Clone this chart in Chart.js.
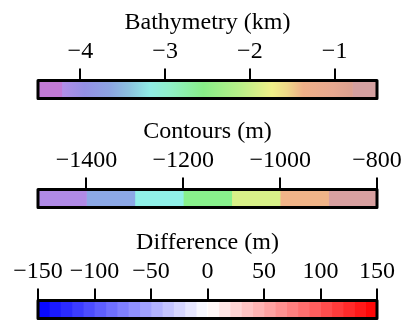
<!DOCTYPE html>
<html>
<head>
<meta charset="utf-8">
<script src="https://cdn.jsdelivr.net/npm/chart.js@4"></script>
<style>
  html, body { margin: 0; padding: 0; background: #fff; }
  #wrap { position: relative; width: 409px; height: 329px; overflow: hidden; }
  #wrap canvas { position: absolute; left: 0; }
</style>
</head>
<body>
<div id="wrap">
  <canvas id="bathyChart" width="409" height="109" style="top:0px;width:409px;height:109px"></canvas>
  <canvas id="contourChart" width="409" height="109" style="top:109px;width:409px;height:109px"></canvas>
  <canvas id="diffChart" width="409" height="109" style="top:220px;width:409px;height:109px"></canvas>
</div>
<script>
// --- data ---
const BATHY_TITLE = 'Bathymetry (km)';
const BATHY_RANGE = [-4.5, -0.5];
const BATHY_TICKS = [-4, -3, -2, -1];
// flat end pieces + continuous middle
const BATHY_SEGMENTS = [[-4.5, -4.22], [-4.22, -0.79], [-0.79, -0.5]];
const BATHY_STOPS = [-4.22, -3.95, -3.65, -3.41, -3.18, -2.94, -2.55, -2.12, -1.74, -1.56, -1.37, -1.02, -0.79];

const CONTOUR_TITLE = 'Contours (m)';
const CONTOUR_RANGE = [-1500, -800];
const CONTOUR_TICKS = [-1400, -1200, -1000, -800];
const CONTOUR_LEVELS = [-1500, -1400, -1300, -1200, -1100, -1000, -900, -800];

const DIFF_TITLE = 'Difference (m)';
const DIFF_RANGE = [-150, 150];
const DIFF_TICKS = [-150, -100, -50, 0, 50, 100, 150];
const DIFF_LEVELS = [-150, -140, -130, -120, -110, -100, -90, -80, -70, -60, -50, -40, -30, -20, -10,
  0, 10, 20, 30, 40, 50, 60, 70, 80, 90, 100, 110, 120, 130, 140, 150];

// --- colours ---
const BATHY_END_COLORS = ['#c27ad6', '#d4a0a0'];
const BATHY_STOP_COLORS = ['#b28ee8', '#9490e6', '#8ca4e2', '#8cc4e0', '#90ece6', '#90f0c8', '#88ee88',
  '#b8f088', '#f0f088', '#f0d888', '#f0b088', '#e8a890', '#dca090'];
const CONTOUR_COLORS = ['#b08ae6', '#8ca8e6', '#90f0e8', '#88f08c', '#d8f088', '#f0b488', '#d8a0a0'];

function bwr(v) {
  if (v < 0) {
    const t = Math.round((v + 150) / 150 * 255);
    return `rgb(${t},${t},255)`;
  }
  const t = Math.round((1 - v / 150) * 255);
  return `rgb(255,${t},${t})`;
}

const FONT_FAMILY = '"Liberation Serif", "Times New Roman", serif';

// black frame round the bar
const boxOutline = {
  id: 'boxOutline',
  afterDraw(chart) {
    const { ctx, chartArea: a } = chart;
    ctx.save();
    ctx.lineWidth = 3;
    ctx.lineJoin = 'round';
    ctx.strokeStyle = '#000';
    ctx.strokeRect(a.left, a.top, a.right - a.left, a.bottom - a.top);
    ctx.restore();
  }
};

function fmt(v) {
  return v < 0 ? '\u2212' + Math.abs(v) : String(v);
}

function makeColorbar(canvasId, title, range, ticks, datasets) {
  return new Chart(document.getElementById(canvasId), {
    type: 'bar',
    data: { labels: [''], datasets },
    plugins: [boxOutline],
    options: {
      responsive: false,
      animation: false,
      indexAxis: 'y',
      layout: { padding: { left: 38, right: 32, top: 11, bottom: 10.5 } },
      datasets: { bar: { grouped: false, barPercentage: 1, categoryPercentage: 1, borderWidth: 0 } },
      plugins: {
        legend: { display: false },
        tooltip: { enabled: false },
        title: {
          display: true,
          text: title,
          color: '#000',
          padding: { top: 0, bottom: 1.8 },
          font: { family: FONT_FAMILY, size: 24, weight: 'normal', lineHeight: 1.0 }
        }
      },
      scales: {
        y: { display: false },
        x: {
          position: 'top',
          min: range[0],
          max: range[1],
          bounds: 'data',
          afterBuildTicks: axis => { axis.ticks = ticks.map(v => ({ value: v })); },
          border: { display: false },
          grid: {
            drawOnChartArea: false,
            drawTicks: true,
            tickLength: 12,
            tickWidth: 2,
            lineWidth: 2,
            color: '#000',
            tickColor: '#000'
          },
          ticks: {
            autoSkip: false,
            maxRotation: 0,
            padding: 3.8,
            color: '#000',
            font: { family: FONT_FAMILY, size: 24, lineHeight: 1.1 },
            callback: v => fmt(v)
          }
        }
      }
    }
  });
}

// bathymetry: gradient middle piece
function bathyGradient(ctx) {
  const chart = ctx.chart;
  const x = chart.scales.x;
  if (!x || !chart.chartArea) return BATHY_STOP_COLORS[0];
  const lo = BATHY_STOPS[0], hi = BATHY_STOPS[BATHY_STOPS.length - 1];
  const g = chart.ctx.createLinearGradient(x.getPixelForValue(lo), 0, x.getPixelForValue(hi), 0);
  BATHY_STOPS.forEach((v, i) => g.addColorStop((v - lo) / (hi - lo), BATHY_STOP_COLORS[i]));
  return g;
}

makeColorbar('bathyChart', BATHY_TITLE, BATHY_RANGE, BATHY_TICKS, [
  { data: [BATHY_SEGMENTS[0]], backgroundColor: BATHY_END_COLORS[0] },
  { data: [BATHY_SEGMENTS[1]], backgroundColor: bathyGradient },
  { data: [BATHY_SEGMENTS[2]], backgroundColor: BATHY_END_COLORS[1] }
]);

makeColorbar('contourChart', CONTOUR_TITLE, CONTOUR_RANGE, CONTOUR_TICKS,
  CONTOUR_COLORS.map((c, i) => ({
    data: [[CONTOUR_LEVELS[i], CONTOUR_LEVELS[i + 1]]],
    backgroundColor: c
  }))
);

makeColorbar('diffChart', DIFF_TITLE, DIFF_RANGE, DIFF_TICKS,
  DIFF_LEVELS.slice(0, -1).map((lo, i) => ({
    data: [[lo, DIFF_LEVELS[i + 1]]],
    backgroundColor: bwr((lo + DIFF_LEVELS[i + 1]) / 2)
  }))
);
</script>
</body>
</html>
